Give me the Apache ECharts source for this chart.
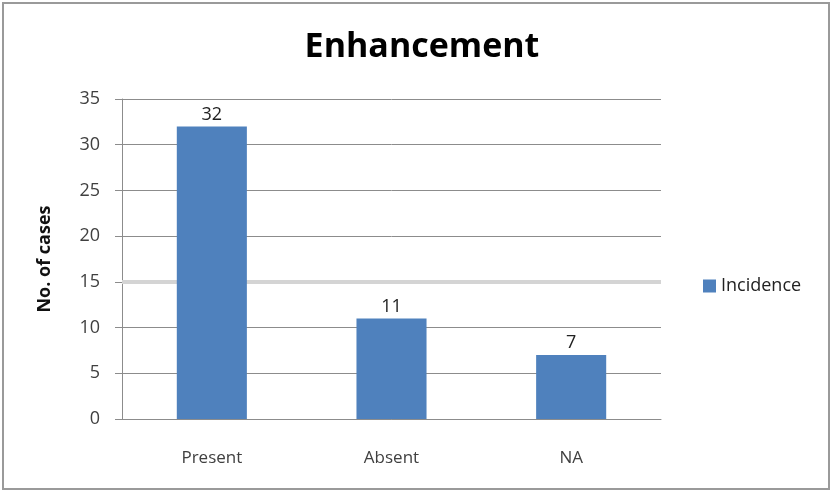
<!DOCTYPE html>
<html>
<head>
<meta charset="utf-8">
<script src="https://cdn.jsdelivr.net/npm/echarts@6/dist/echarts.min.js"></script>
<style>
  html, body { margin: 0; padding: 0; background: #fff; }
  #chart {
    position: absolute; left: 2px; top: 2px;
    width: 828px; height: 488px;
    border: 2px solid #9a9a9a;
    box-sizing: border-box;
  }
</style>
</head>
<body>
<div id="chart"></div>
<script>
// data
var categories = ['Present', 'Absent', 'NA'];
var incidence = [32, 11, 7];
var seriesName = 'Incidence';

var chart = echarts.init(document.getElementById('chart'));
var axisColor = '#404040';
var fontFam = '"Open Sans", "Noto Sans", sans-serif';

chart.setOption({
  animation: false,
  title: {
    text: 'Enhancement',
    left: 413,
    top: 21,
    textAlign: 'center',
    textStyle: {
      fontFamily: fontFam,
      fontSize: 34,
      fontWeight: 'bold',
      color: '#000'
    }
  },
  legend: {
    data: [seriesName],
    orient: 'vertical',
    left: 694,
    top: 268,
    icon: 'rect',
    itemWidth: 13,
    itemHeight: 13,
    itemGap: 6,
    textStyle: { fontFamily: fontFam, fontSize: 18, color: '#222' }
  },
  grid: {
    left: 118,
    right: 167,
    top: 95,
    bottom: 69
  },
  xAxis: {
    type: 'category',
    data: categories,
    axisTick: { show: false },
    axisLine: { lineStyle: { color: '#8c8c8c', width: 1 } },
    axisLabel: {
      margin: 31,
      fontFamily: fontFam,
      fontSize: 17,
      color: axisColor
    }
  },
  yAxis: {
    type: 'value',
    min: 0,
    max: 35,
    interval: 5,
    name: 'No. of cases',
    nameLocation: 'middle',
    nameGap: 68,
    nameTextStyle: {
      fontFamily: fontFam,
      fontSize: 18,
      fontWeight: 'bold',
      color: '#111'
    },
    axisLine: { show: true, lineStyle: { color: '#8c8c8c' } },
    axisTick: { show: true, length: 7, lineStyle: { color: '#8c8c8c' } },
    axisLabel: {
      margin: 22,
      fontFamily: fontFam,
      fontSize: 18,
      color: axisColor
    },
    splitLine: { lineStyle: { color: '#8c8c8c', width: 1 } }
  },
  series: [{
    name: seriesName,
    type: 'bar',
    data: incidence,
    barWidth: '39%',
    z: 3,
    itemStyle: { color: '#4F81BD' },
    label: {
      show: true,
      position: 'top',
      distance: 3,
      fontFamily: fontFam,
      fontSize: 18,
      color: '#222'
    },
    // the thick pale line at 15 seen in the picture
    markLine: {
      silent: true,
      symbol: 'none',
      label: { show: false },
      z: 1,
      lineStyle: { color: '#d4d4d4', width: 4, type: 'solid' },
      data: [{ yAxis: 15 }]
    }
  }]
});
</script>
</body>
</html>
